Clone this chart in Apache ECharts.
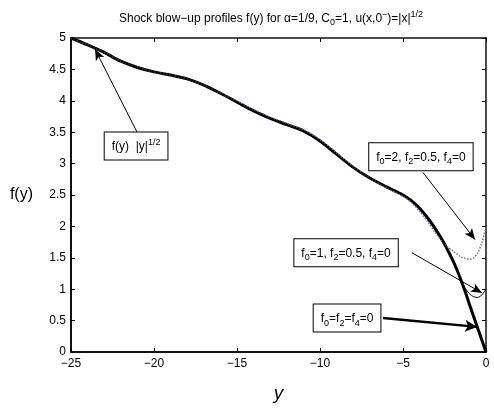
<!DOCTYPE html>
<html lang="en">
<head>
<meta charset="UTF-8">
<script src="https://cdn.jsdelivr.net/npm/echarts@6/dist/echarts.min.js"></script>
<style>
    html, body { margin: 0; padding: 0; background: #fff; }
    #pic { width: 494px; height: 408px; }
</style>
<title>Shock blow-up profiles</title>
</head>
<body>
<div id="pic"></div>
<script type="text/javascript">
    // y positions shared by all three profiles
    var ys = [-25, -24, -23, -22, -21, -20, -19, -18, -17, -16, -15, -14, -13, -12, -11, -10,
        -9, -8, -7, -6, -5, -4.5, -4, -3.5, -3, -2.5, -2, -1.75, -1.5, -1.25, -1, -0.75, -0.5, -0.25, 0];
    // f0=f2=f4=0 (thick)
    var fZero = [5.0, 4.89, 4.77, 4.63, 4.53, 4.46, 4.41, 4.35, 4.25, 4.12, 3.98, 3.84, 3.72, 3.62, 3.52, 3.36,
        3.15, 2.94, 2.77, 2.63, 2.5, 2.41, 2.29, 2.13, 1.94, 1.72, 1.46, 1.31, 1.14, 0.96, 0.76, 0.57, 0.38, 0.19, 0];
    // f0=1, f2=0.5, f4=0 (thin)
    var fOne = [5.0, 4.89, 4.77, 4.63, 4.53, 4.46, 4.41, 4.35, 4.25, 4.12, 3.98, 3.84, 3.72, 3.62, 3.52, 3.36,
        3.15, 2.94, 2.77, 2.63, 2.5, 2.41, 2.29, 2.13, 1.94, 1.72, 1.46, 1.31, 1.13, 1.01, 0.93, 0.88, 0.87, 0.91, 1.0];
    // f0=2, f2=0.5, f4=0 (dotted)
    var fTwo = [5.0, 4.89, 4.77, 4.63, 4.53, 4.46, 4.41, 4.35, 4.25, 4.12, 3.99, 3.86, 3.74, 3.64, 3.54, 3.38,
        3.17, 2.95, 2.77, 2.62, 2.48, 2.38, 2.24, 2.07, 1.88, 1.72, 1.61, 1.56, 1.51, 1.49, 1.48, 1.5, 1.58, 1.74, 1.98];

    // annotation boxes: [y, f] of box centre and text
    var boxPos = [[-21.08, 3.28], [-3.92, 3.11], [-8.43, 1.58], [-8.37, 0.54]];
    var boxText = [
        '{t|f(y)  |y|}{sup|1/2}',
        '{t|f}{sub|0}{t|=2, f}{sub|2}{t|=0.5, f}{sub|4}{t|=0}',
        '{t|f}{sub|0}{t|=1, f}{sub|2}{t|=0.5, f}{sub|4}{t|=0}',
        '{t|f}{sub|0}{t|=f}{sub|2}{t|=f}{sub|4}{t|=0}'
    ];
    // arrows: from [y, f] to [y, f]
    var arrowFrom = [[-21.0, 3.49], [-3.8, 2.86], [-4.46, 1.58], [-6.2, 0.54]];
    var arrowTo = [[-23.55, 4.82], [-0.66, 1.79], [-0.24, 0.94], [-0.54, 0.40]];
    var arrowWidth = [1, 1, 1, 2.5];

    var FONT = 'Liberation Sans';

    function pairs(xs, vs) {
        var out = [];
        for (var i = 0; i < xs.length; i++) out.push([xs[i], vs[i]]);
        return out;
    }

    function minus(v) {
        return String(v).replace('-', '\u2212');
    }

    var richText = {
        t: { fontSize: 12, fontFamily: FONT, color: '#000', lineHeight: 18, verticalAlign: 'middle' },
        sub: { fontSize: 9, fontFamily: FONT, color: '#000', lineHeight: 18, verticalAlign: 'bottom', padding: [7, 0, 0, 0] },
        sup: { fontSize: 9, fontFamily: FONT, color: '#000', lineHeight: 18, verticalAlign: 'top', padding: [0, 0, 6, 0] }
    };

    var boxData = [];
    for (var i = 0; i < boxPos.length; i++) {
        boxData.push({
            coord: boxPos[i],
            symbolSize: 0,
            label: {
                show: true,
                position: 'inside',
                formatter: boxText[i],
                rich: richText,
                backgroundColor: '#fff',
                borderColor: '#000',
                borderWidth: 1,
                padding: [5, 7, 4, 7]
            }
        });
    }

    var arrowData = [];
    for (var i = 0; i < arrowFrom.length; i++) {
        arrowData.push([
            { coord: arrowFrom[i], symbol: 'none', lineStyle: { width: arrowWidth[i], color: '#000', type: 'solid' } },
            { coord: arrowTo[i], symbol: 'arrow', symbolSize: arrowWidth[i] > 1 ? [9, 12] : [7, 11] }
        ]);
    }

    var chartDom = document.getElementById('pic');
    var myChart = echarts.init(chartDom, null, { renderer: 'canvas' });
    var option;

    var axisBase = {
        type: 'value',
        splitLine: { show: false },
        axisTick: { inside: true, length: 4, lineStyle: { color: '#000', width: 1 } },
        axisLine: { show: true, onZero: false, lineStyle: { color: '#111', width: 2 } }
    };

    option = {
        animation: false,
        backgroundColor: '#fff',
        textStyle: { fontFamily: FONT },
        title: {
            text: '{n|Shock blow\u2212up profiles f(y) for \u03b1=1/9, C}{s|0}{n|=1, u(x,0}{p|\u2212}{n|)=|x|}{p|1/2}',
            left: 114,
            top: 5,
            textStyle: {
                fontWeight: 'normal',
                rich: {
                    n: { fontSize: 12, fontWeight: 'normal', fontFamily: FONT, color: '#000', lineHeight: 17, verticalAlign: 'middle' },
                    s: { fontSize: 9, fontWeight: 'normal', fontFamily: FONT, color: '#000', lineHeight: 17, verticalAlign: 'bottom', padding: [6, 0, 0, 0] },
                    p: { fontSize: 9, fontWeight: 'normal', fontFamily: FONT, color: '#000', lineHeight: 17, verticalAlign: 'top', padding: [0, 0, 6, 0] }
                }
            }
        },
        grid: { left: 71, right: 8, top: 38, bottom: 45 },
        xAxis: [
            Object.assign({}, axisBase, {
                position: 'bottom', min: -25, max: 0, interval: 5,
                name: 'y', nameLocation: 'middle', nameGap: 32,
                nameTextStyle: { fontSize: 19, fontStyle: 'italic', fontFamily: FONT, color: '#000' },
                axisLabel: { color: '#000', fontSize: 12, margin: 6, formatter: minus }
            }),
            Object.assign({}, axisBase, {
                position: 'top', min: -25, max: 0, interval: 5,
                axisLabel: { show: false },
                axisLine: { show: true, onZero: false, lineStyle: { color: '#111', width: 1.5 } }
            })
        ],
        yAxis: [
            Object.assign({}, axisBase, {
                position: 'left', min: 0, max: 5, interval: 0.5,
                name: 'f(y)', nameLocation: 'middle', nameGap: 38, nameRotate: 0,
                nameTextStyle: { fontSize: 16, fontFamily: FONT, color: '#000' },
                axisLabel: { color: '#000', fontSize: 12, margin: 5 }
            }),
            Object.assign({}, axisBase, {
                position: 'right', min: 0, max: 5, interval: 0.5,
                axisLabel: { show: false },
                axisLine: { show: true, onZero: false, lineStyle: { color: '#111', width: 1.5 } }
            })
        ],
        series: [
            {
                name: 'f0=f2=f4=0',
                type: 'line',
                data: pairs(ys, fZero),
                smooth: 0.3,
                showSymbol: false,
                lineStyle: { color: '#000', width: 3 },
                z: 3,
                markLine: {
                    silent: true,
                    animation: false,
                    label: { show: false },
                    data: arrowData
                },
                markPoint: {
                    silent: true,
                    animation: false,
                    data: boxData
                }
            },
            {
                name: 'f0=2',
                type: 'line',
                data: pairs(ys, fTwo),
                smooth: 0.3,
                showSymbol: false,
                lineStyle: { color: '#6a72a6', width: 1.5, type: 'dotted' },
                z: 4
            },
            {
                name: 'f0=1',
                type: 'line',
                data: pairs(ys, fOne),
                smooth: 0.3,
                showSymbol: false,
                lineStyle: { color: '#000', width: 1 },
                z: 4
            }
        ]
    };

    option && myChart.setOption(option);
</script>
</body>
</html>
